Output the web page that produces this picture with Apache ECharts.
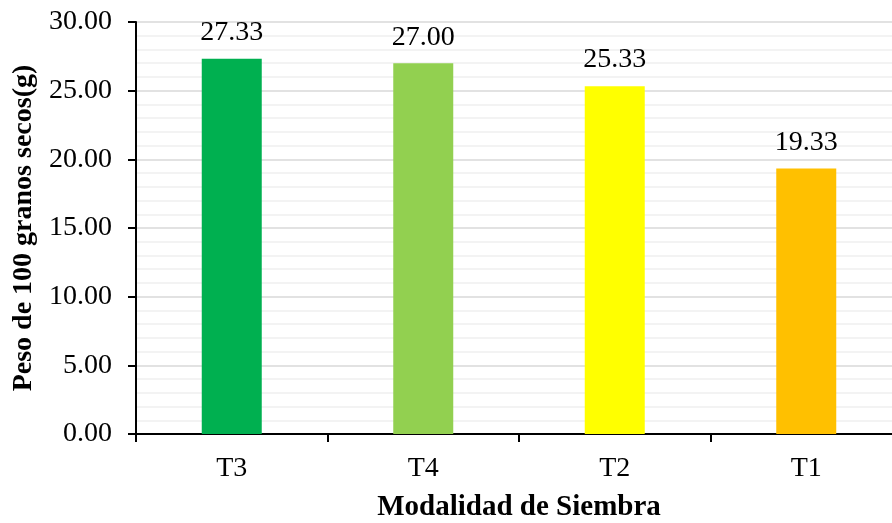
<!DOCTYPE html>
<html>
<head>
<meta charset="utf-8">
<script src="https://cdn.jsdelivr.net/npm/echarts@6/dist/echarts.min.js"></script>
<style>
  html, body { margin: 0; padding: 0; background: #fff; overflow: hidden; }
  /* the plot area runs a little past the right edge of the window */
  #chart { width: 902px; height: 523px; }
</style>
</head>
<body>
<div id="chart"></div>
<script>
// Treatments (sowing modality) and dry weight of 100 grains, in grams
const categories = ['T3', 'T4', 'T2', 'T1'];
const values = [27.33, 27.00, 25.33, 19.33];
const barColors = ['#00B050', '#92D050', '#FFFF00', '#FFC000'];
const yTicks = { min: 0, max: 30, interval: 5 };

const serif = '"Liberation Serif", "Times New Roman", serif';

const chart = echarts.init(document.getElementById('chart'), null, { renderer: 'canvas' });

chart.setOption({
  backgroundColor: '#ffffff',
  animation: false,
  grid: { left: 136, top: 22, right: 0, bottom: 89, containLabel: false, outerBoundsMode: 'none' },
  xAxis: {
    type: 'category',
    data: categories,
    name: 'Modalidad de Siembra',
    nameLocation: 'middle',
    nameGap: 59,
    nameTextStyle: { fontFamily: serif, fontSize: 29, fontWeight: 'bold', color: '#000' },
    axisLine: { lineStyle: { color: '#000', width: 2 } },
    axisTick: { show: true, alignWithLabel: false, length: 8, lineStyle: { color: '#000', width: 2 } },
    axisLabel: { fontFamily: serif, fontSize: 28, color: '#000', margin: 21 },
    splitLine: { show: false }
  },
  yAxis: {
    type: 'value',
    min: yTicks.min,
    max: yTicks.max,
    interval: yTicks.interval,
    name: 'Peso de 100 granos secos(g)',
    nameLocation: 'middle',
    nameGap: 96,
    nameRotate: 90,
    nameTextStyle: { fontFamily: serif, fontSize: 28, fontWeight: 'bold', color: '#000' },
    axisLine: { show: true, lineStyle: { color: '#000', width: 2 } },
    axisTick: { show: true, inside: false, length: 8, lineStyle: { color: '#000', width: 2 } },
    axisLabel: {
      fontFamily: serif, fontSize: 28, color: '#000', margin: 24,
      formatter: v => v.toFixed(2)
    },
    splitLine: { show: true, lineStyle: { color: '#d9d9d9', width: 1.5 } },
    minorTick: { show: false, splitNumber: 5 },
    minorSplitLine: { show: true, lineStyle: { color: '#efefef', width: 1.5 } }
  },
  series: [{
    type: 'bar',
    barWidth: 60,
    data: values.map((v, i) => ({ value: v, itemStyle: { color: barColors[i] } })),
    label: {
      show: true,
      position: 'top',
      distance: 12,
      fontFamily: serif,
      fontSize: 28,
      color: '#000',
      formatter: p => p.value.toFixed(2)
    }
  }]
});
</script>
</body>
</html>
